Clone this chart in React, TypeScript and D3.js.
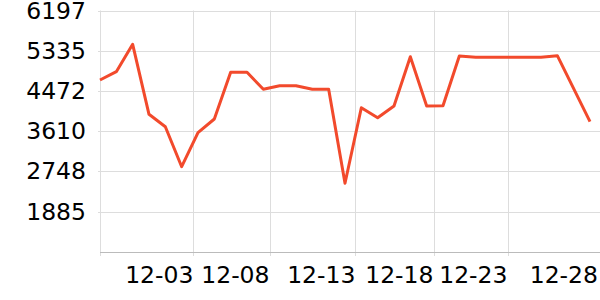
import React from "react";
import * as d3 from "d3";

const days: number[] = d3.range(31);
const values: number[] = [
  4708, 4886, 5473, 3973, 3707, 2850, 3579, 3872, 4873, 4873,
  4509, 4586, 4586, 4509, 4509, 2495, 4114, 3900, 4151, 5207,
  4151, 4155, 5222, 5194, 5194, 5194, 5194, 5194, 5229, 4522, 3815,
];
const yTickValues: number[] = [1885.33, 2747.67, 3610, 4472.33, 5334.67, 6197];
const xTickLabels: string[] = ["12-03", "12-08", "12-13", "12-18", "12-23", "12-28"];
const xTickIndex: number[] = [5.72, 10.38, 15.64, 20.42, 24.95, 30.49];
const yMin = 1023;
const yMax = 6197;

export default function App() {
  const W = 600;
  const H = 300;
  const left = 100;
  const right = 590;
  const top = 10.5;
  const bottom = 252;

  const x = d3.scaleLinear().domain([0, 30]).range([left, right]);
  const y = d3.scaleLinear().domain([yMin, yMax]).range([bottom, top]);

  const line = d3
    .line<number>()
    .x((_, i) => x(days[i]))
    .y((d) => y(d));

  const font = "'DejaVu Sans', sans-serif";

  return (
    <svg
      width={W}
      height={H}
      style={{ position: "absolute", left: 0, top: 0, background: "#fff" }}
    >
      {yTickValues.map((v, i) => (
        <line
          key={"hg" + i}
          x1={left - 2}
          x2={W}
          y1={Math.round(y(v)) + 0.5}
          y2={Math.round(y(v)) + 0.5}
          stroke="#dddddd"
          strokeWidth={1}
        />
      ))}
      {xTickIndex.slice(0, 5).map((v, i) => (
        <line
          key={"vg" + i}
          x1={Math.round(x(v)) + 0.5}
          x2={Math.round(x(v)) + 0.5}
          y1={top}
          y2={bottom + 4}
          stroke="#dddddd"
          strokeWidth={1}
        />
      ))}
      <line x1={left + 0.5} x2={left + 0.5} y1={top} y2={bottom + 4} stroke="#dddddd" />
      <line x1={left} x2={W} y1={bottom + 0.5} y2={bottom + 0.5} stroke="#bbbbbb" />
      {yTickValues.map((v, i) => (
        <text
          key={"yl" + i}
          x={86}
          y={y(v)}
          textAnchor="end"
          dominantBaseline="central"
          fontFamily={font}
          fontSize={23.5}
          fill="#000"
        >
          {Math.round(v)}
        </text>
      ))}
      {xTickIndex.map((v, i) => (
        <text
          key={"xl" + i}
          x={x(v)}
          y={283}
          textAnchor="end"
          fontFamily={font}
          fontSize={23.5}
          fill="#000"
        >
          {xTickLabels[i]}
        </text>
      ))}
      <path
        d={line(values) || ""}
        fill="none"
        stroke="#f24a2c"
        strokeWidth={3}
        strokeLinejoin="round"
      />
    </svg>
  );
}
